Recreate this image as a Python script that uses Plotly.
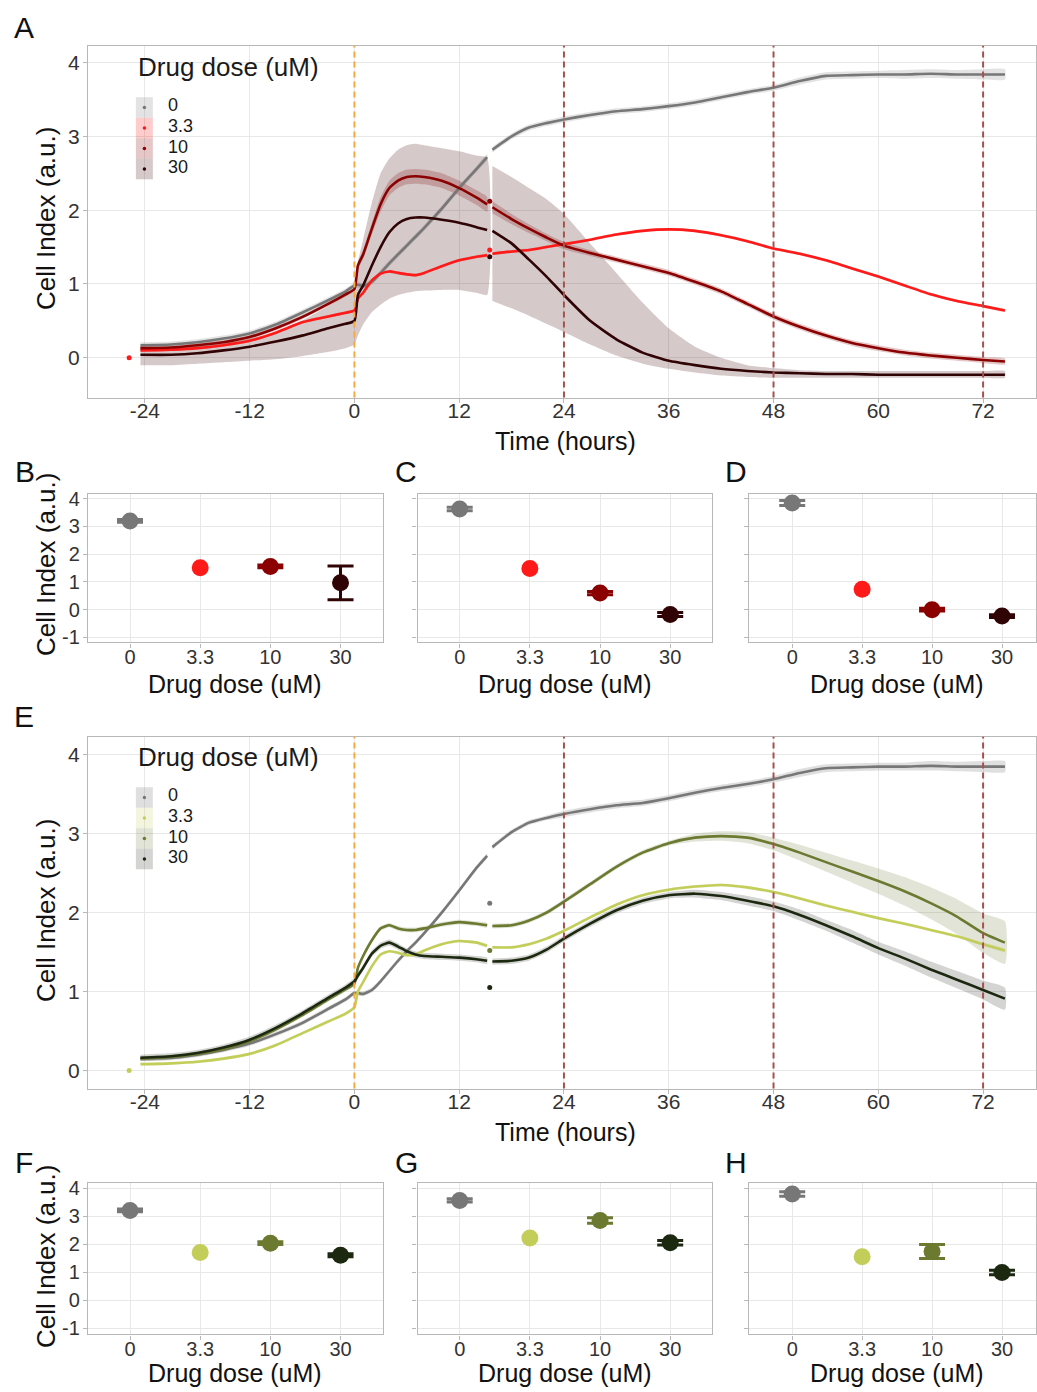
import plotly.graph_objects as go

W, H = 1037, 1392
FONT = "Liberation Sans, Arial, sans-serif"
TICK_COL = "#333333"
GRID = "#e8e8e8"
BORDER = "#b8b8b8"


def fx(px):
    return px / W


def fy(py):
    return 1 - py / H


# ------------------------------------------------------------------ data
time_h = [-24.5, -21, -18, -15, -12, -9, -6, -3, -1, 0,
          0.4, 1, 2, 3, 4, 5, 6, 7, 8, 10,
          12, 14, 15.2, None, 15.8, 18, 20, 22, 24, 27,
          30, 33, 36, 39, 42, 45, 48, 51, 54, 57,
          60, 63, 66, 69, 72, 74.5]

time_ticks = [-24, -12, 0, 12, 24, 36, 48, 60, 72]
time_tick_text = ["-24", "-12", "0", "12", "24", "36", "48", "60", "72"]
ci_ticks = [-1, 0, 1, 2, 3, 4]
ci_tick_text = ["-1", "0", "1", "2", "3", "4"]

dose_labels = ["0", "3.3", "10", "30"]

# Panel A (red drug)
a_dose0 = [0.17, 0.18, 0.21, 0.26, 0.33, 0.45, 0.61, 0.78, 0.9, 0.98,
           0.99, 0.97, 1.03, 1.15, 1.28, 1.4, 1.52, 1.64, 1.76, 2.02,
           2.3, 2.56, 2.72, None, 2.82, 3.0, 3.12, 3.18, 3.23, 3.29,
           3.34, 3.37, 3.41, 3.46, 3.53, 3.6, 3.66, 3.75, 3.82, 3.83,
           3.84, 3.84, 3.85, 3.84, 3.84, 3.84]
a_dose3 = [0.1, 0.11, 0.13, 0.17, 0.23, 0.34, 0.48, 0.56, 0.61, 0.64,
           0.8, 0.88, 1.05, 1.14, 1.17, 1.15, 1.13, 1.12, 1.15, 1.24,
           1.32, 1.37, 1.39, None, 1.41, 1.44, 1.46, 1.5, 1.54, 1.6,
           1.67, 1.72, 1.74, 1.72, 1.66, 1.58, 1.48, 1.41, 1.32, 1.21,
           1.1, 0.98, 0.86, 0.77, 0.7, 0.64]
a_dose10 = [0.13, 0.14, 0.17, 0.21, 0.28, 0.4, 0.55, 0.73, 0.86, 0.93,
            1.25, 1.4, 1.75, 2.08, 2.3, 2.4, 2.45, 2.46, 2.45, 2.4,
            2.3, 2.17, 2.08, None, 2.04, 1.88, 1.75, 1.63, 1.52, 1.42,
            1.33, 1.24, 1.15, 1.03, 0.9, 0.73, 0.56, 0.42, 0.3, 0.2,
            0.13, 0.07, 0.03, 0.0, -0.03, -0.05]
a_dose30 = [0.04, 0.04, 0.06, 0.1, 0.15, 0.22, 0.3, 0.4, 0.46, 0.5,
            0.85, 0.98, 1.25, 1.5, 1.7, 1.82, 1.88, 1.9, 1.9, 1.87,
            1.83, 1.77, 1.73, None, 1.72, 1.55, 1.33, 1.1, 0.85, 0.5,
            0.25, 0.07, -0.04, -0.1, -0.15, -0.18, -0.2, -0.21, -0.22, -0.22,
            -0.23, -0.23, -0.23, -0.23, -0.23, -0.23]
a_sd0 = [0.04, 0.04, 0.04, 0.04, 0.04, 0.04, 0.04, 0.04, 0.04, 0.04,
         0.04, 0.04, 0.04, 0.04, 0.04, 0.04, 0.04, 0.04, 0.04, 0.04,
         0.04, 0.04, 0.04, None, 0.04, 0.04, 0.04, 0.04, 0.04, 0.04,
         0.04, 0.04, 0.04, 0.04, 0.04, 0.04, 0.04, 0.05, 0.05, 0.05,
         0.05, 0.06, 0.06, 0.06, 0.07, 0.07]
a_sd3 = [0.02] * 23 + [None] + [0.02] * 22
a_sd10 = [0.03, 0.03, 0.03, 0.03, 0.03, 0.03, 0.03, 0.03, 0.03, 0.03,
          0.05, 0.06, 0.08, 0.1, 0.1, 0.1, 0.1, 0.1, 0.1, 0.1,
          0.1, 0.1, 0.1, None, 0.08, 0.07, 0.06, 0.05, 0.05, 0.04,
          0.04, 0.04, 0.04, 0.04, 0.04, 0.04, 0.04, 0.04, 0.04, 0.04,
          0.04, 0.04, 0.04, 0.04, 0.04, 0.04]
a_lo30 = [-0.1, -0.1, -0.08, -0.06, -0.04, -0.02, 0.02, 0.08, 0.13, 0.18,
          0.3, 0.45, 0.62, 0.72, 0.8, 0.85, 0.88, 0.9, 0.91, 0.92,
          0.92, 0.88, 0.85, None, 0.77, 0.67, 0.57, 0.46, 0.35, 0.18,
          0.03, -0.08, -0.15, -0.2, -0.24, -0.26, -0.27, -0.27, -0.27, -0.27,
          -0.27, -0.27, -0.27, -0.27, -0.27, -0.27]
a_hi30 = [0.15, 0.15, 0.17, 0.2, 0.26, 0.35, 0.5, 0.7, 0.85, 0.95,
          1.3, 1.6, 2.1, 2.5, 2.7, 2.82, 2.88, 2.9, 2.88, 2.84,
          2.8, 2.74, 2.71, None, 2.6, 2.45, 2.3, 2.15, 1.95, 1.55,
          1.15, 0.75, 0.4, 0.15, 0.0, -0.1, -0.14, -0.17, -0.18, -0.18,
          -0.18, -0.18, -0.18, -0.18, -0.18, -0.18]
# isolated points (t, value) per dose in panel A
a_iso_t = [-25.8, 15.5, 15.5, 15.5]
a_iso_v = [0.0, 1.46, 2.12, 1.37]
a_iso_dose = [1, 1, 2, 3]

# Panel E (green drug)
e_dose0 = [0.15, 0.16, 0.2, 0.26, 0.34, 0.46, 0.6, 0.78, 0.9, 0.98,
           0.98, 0.97, 1.02, 1.13, 1.26, 1.39, 1.51, 1.62, 1.74, 2.0,
           2.28, 2.57, 2.72, None, 2.83, 3.02, 3.14, 3.2, 3.25, 3.31,
           3.36, 3.39, 3.45, 3.52, 3.58, 3.63, 3.69, 3.77, 3.83, 3.84,
           3.85, 3.85, 3.86, 3.85, 3.85, 3.85]
e_dose3 = [0.08, 0.09, 0.11, 0.15, 0.21, 0.32, 0.47, 0.62, 0.72, 0.8,
           1.0, 1.12, 1.32, 1.47, 1.51, 1.49, 1.46, 1.47, 1.52, 1.6,
           1.64, 1.62, 1.58, None, 1.56, 1.56, 1.6, 1.67, 1.77, 1.94,
           2.1, 2.22, 2.29, 2.33, 2.35, 2.32, 2.26, 2.18, 2.09, 2.01,
           1.93, 1.86, 1.78, 1.7, 1.6, 1.52]
e_dose10 = [0.15, 0.17, 0.21, 0.27, 0.37, 0.52, 0.7, 0.9, 1.03, 1.1,
            1.3, 1.45, 1.65, 1.8, 1.84, 1.8, 1.78, 1.78, 1.8, 1.85,
            1.88, 1.86, 1.84, None, 1.83, 1.84, 1.9, 2.0, 2.14, 2.36,
            2.58, 2.76, 2.88, 2.95, 2.97, 2.95, 2.87, 2.76, 2.64, 2.52,
            2.4, 2.27, 2.12, 1.95, 1.74, 1.62]
e_dose30 = [0.16, 0.18, 0.22, 0.29, 0.39, 0.54, 0.72, 0.92, 1.05, 1.13,
            1.2, 1.3, 1.48, 1.58, 1.62, 1.57, 1.51, 1.47, 1.45, 1.44,
            1.43, 1.41, 1.39, None, 1.38, 1.39, 1.43, 1.53, 1.67, 1.86,
            2.03, 2.15, 2.22, 2.24, 2.21, 2.15, 2.08, 1.97, 1.84, 1.7,
            1.55, 1.42, 1.28, 1.15, 1.02, 0.91]
e_sd0 = [0.03, 0.03, 0.03, 0.03, 0.03, 0.03, 0.03, 0.03, 0.03, 0.03,
         0.03, 0.03, 0.03, 0.03, 0.03, 0.03, 0.03, 0.03, 0.03, 0.03,
         0.03, 0.03, 0.03, None, 0.03, 0.03, 0.03, 0.03, 0.04, 0.04,
         0.04, 0.04, 0.04, 0.04, 0.04, 0.04, 0.04, 0.05, 0.05, 0.05,
         0.05, 0.05, 0.06, 0.06, 0.07, 0.07]
e_sd3 = [0.02] * 23 + [None] + [0.02] * 22
e_sd10 = [0.03, 0.03, 0.03, 0.03, 0.03, 0.03, 0.03, 0.03, 0.03, 0.03,
          0.03, 0.03, 0.03, 0.03, 0.03, 0.03, 0.03, 0.03, 0.03, 0.03,
          0.03, 0.03, 0.03, None, 0.03, 0.03, 0.03, 0.03, 0.03, 0.03,
          0.03, 0.03, 0.03, 0.05, 0.06, 0.07, 0.08, 0.1, 0.12, 0.14,
          0.16, 0.18, 0.2, 0.22, 0.25, 0.27]
e_sd30 = [0.04, 0.04, 0.04, 0.04, 0.04, 0.04, 0.04, 0.04, 0.04, 0.04,
          0.04, 0.04, 0.04, 0.04, 0.04, 0.04, 0.04, 0.04, 0.04, 0.04,
          0.04, 0.04, 0.04, None, 0.04, 0.04, 0.04, 0.04, 0.04, 0.04,
          0.04, 0.04, 0.04, 0.05, 0.05, 0.06, 0.06, 0.07, 0.07, 0.08,
          0.08, 0.09, 0.1, 0.11, 0.12, 0.14]
e_iso_t = [-25.8, 15.5, 15.5, 15.5]
e_iso_v = [0.0, 2.12, 1.52, 1.05]
e_iso_dose = [1, 0, 2, 3]

treatment_time = [0]
snapshot_times = [24, 48, 72]

# Dose-response snapshots (mean, error) at 24 h, 48 h, 72 h
b_mean = [3.2, 1.51, 1.56, 0.97]
b_err = [0.05, 0, 0.05, 0.61]
c_mean = [3.63, 1.49, 0.6, -0.17]
c_err = [0.06, 0, 0.06, 0.07]
d_mean = [3.85, 0.74, 0.0, -0.23]
d_err = [0.09, 0, 0.05, 0.05]
f_mean = [3.21, 1.71, 2.04, 1.61]
f_err = [0.05, 0, 0.05, 0.05]
g_mean = [3.57, 2.23, 2.85, 2.06]
g_err = [0.06, 0, 0.1, 0.08]
h_mean = [3.8, 1.56, 1.74, 0.99]
h_err = [0.08, 0, 0.25, 0.08]

red_cols = ["#777777", "#ff1a1a", "#8b0000", "#300404"]
red_fill = ["rgba(128,128,128,0.22)", "rgba(255,0,0,0.2)",
            "rgba(139,0,0,0.22)", "rgba(70,10,10,0.22)"]
grn_cols = ["#777777", "#c3ce5a", "#6b7a30", "#1d2811"]
grn_fill = ["rgba(128,128,128,0.25)", "rgba(195,206,90,0.2)",
            "rgba(107,122,48,0.2)", "rgba(40,45,30,0.2)"]

fig = go.Figure()


def band(t, mid, sd=None, lo=None, hi=None):
    if lo is None:
        lo = [None if m is None else m - s for m, s in zip(mid, sd)]
        hi = [None if m is None else m + s for m, s in zip(mid, sd)]
    xs, ys, seg = [], [], []

    def flush():
        if seg:
            xs.extend([p[0] for p in seg] + [p[0] for p in reversed(seg)] + [None])
            ys.extend([p[2] for p in seg] + [p[1] for p in reversed(seg)] + [None])

    for ti, l, h in zip(t, lo, hi):
        if ti is None or l is None:
            flush()
            seg = []
        else:
            seg.append((ti, l, h))
    flush()
    return xs, ys


def add_timecourse(series, bands, cols, fills, iso_t, iso_v, iso_d, xa, ya):
    for (xs, ys), fc in zip(bands, fills):
        fig.add_trace(go.Scatter(x=xs, y=ys, mode="lines", fill="toself",
                                 fillcolor=fc, line=dict(width=0, shape="spline", smoothing=0.5),
                                 hoverinfo="skip", showlegend=False,
                                 xaxis=xa, yaxis=ya))
    for s, c in zip(series, cols):
        fig.add_trace(go.Scatter(x=time_h, y=s, mode="lines",
                                 line=dict(color=c, width=2.6, shape="spline", smoothing=0.5),
                                 connectgaps=False, showlegend=False,
                                 xaxis=xa, yaxis=ya))
    fig.add_trace(go.Scatter(x=iso_t, y=iso_v, mode="markers",
                             marker=dict(color=[cols[d] for d in iso_d], size=5),
                             showlegend=False, xaxis=xa, yaxis=ya))


a_series = [a_dose0, a_dose3, a_dose10, a_dose30]
a_bands = [band(time_h, a_dose0, a_sd0), band(time_h, a_dose3, a_sd3),
           band(time_h, a_dose10, a_sd10),
           band(time_h, a_dose30, lo=a_lo30, hi=a_hi30)]
add_timecourse(a_series, a_bands, red_cols, red_fill,
               a_iso_t, a_iso_v, a_iso_dose, "x", "y")

e_series = [e_dose0, e_dose3, e_dose10, e_dose30]
e_bands = [band(time_h, e_dose0, e_sd0), band(time_h, e_dose3, e_sd3),
           band(time_h, e_dose10, e_sd10), band(time_h, e_dose30, e_sd30)]
add_timecourse(e_series, e_bands, grn_cols, grn_fill,
               e_iso_t, e_iso_v, e_iso_dose, "x5", "y5")


def add_dose(means, errs, cols, xa, ya):
    for lab, m, e, c in zip(dose_labels, means, errs, cols):
        fig.add_trace(go.Scatter(
            x=[lab], y=[m], mode="markers",
            marker=dict(color=c, size=17),
            error_y=dict(type="data", array=[e], visible=e > 0,
                         color=c, thickness=3, width=13),
            showlegend=False, xaxis=xa, yaxis=ya))


add_dose(b_mean, b_err, red_cols, "x2", "y2")
add_dose(c_mean, c_err, red_cols, "x3", "y3")
add_dose(d_mean, d_err, red_cols, "x4", "y4")
add_dose(f_mean, f_err, grn_cols, "x6", "y6")
add_dose(g_mean, g_err, grn_cols, "x7", "y7")
add_dose(h_mean, h_err, grn_cols, "x8", "y8")

# ------------------------------------------------------------------ axes
tick_font = dict(family=FONT, size=21, color=TICK_COL)
dose_tick_font = dict(family=FONT, size=20, color=TICK_COL)
common = dict(showline=True, mirror=True, linecolor=BORDER, linewidth=1.2,
              showgrid=True, gridcolor=GRID, gridwidth=1, zeroline=False,
              ticks="outside", ticklen=4, tickcolor=BORDER, tickfont=tick_font)

layout = {}
for key_x, key_y, ytop, ybot, yr in [("xaxis", "yaxis", 40, 395, [-0.54, 4.23]),
                                      ("xaxis5", "yaxis5", 737, 1092, [-0.23, 4.23])]:
    layout[key_x] = dict(common, domain=[fx(88), 1.0], range=[-30.52, 78.06],
                         tickvals=time_ticks, ticktext=time_tick_text,
                         ticklabelstandoff=-10,
                         anchor=key_y.replace("axis", ""))
    layout[key_y] = dict(common, domain=[fy(ybot), fy(ytop)], range=yr,
                         tickvals=ci_ticks[1:], ticktext=ci_tick_text[1:],
                         ticklabelstandoff=-1,
                         anchor=key_x.replace("axis", ""))

dose_panels = [
    ("2", 88, 383, 492, 642, [-1.18, 4.18], True, [-0.6, 3.6]),
    ("3", 418, 713, 492, 642, [-1.18, 4.18], False, [-0.6, 3.6]),
    ("4", 750, 1037, 492, 642, [-1.18, 4.18], False, [-0.614, 3.486]),
    ("6", 88, 383, 1187, 1340, [-1.22, 4.2], True, [-0.6, 3.6]),
    ("7", 418, 713, 1187, 1340, [-1.22, 4.2], False, [-0.6, 3.6]),
    ("8", 750, 1037, 1187, 1340, [-1.22, 4.2], False, [-0.614, 3.486]),
]
for n, x0, x1, y0, y1, yr, showlab, xr in dose_panels:
    layout["xaxis" + n] = dict(common, domain=[fx(x0), fx(x1)], type="category",
                               categoryorder="array", categoryarray=dose_labels,
                               range=xr, anchor="y" + n, ticklabelstandoff=-8,
                               tickfont=dose_tick_font)
    layout["yaxis" + n] = dict(common, domain=[fy(y1), fy(y0)], range=yr,
                               tickvals=ci_ticks, ticktext=ci_tick_text,
                               ticklabelstandoff=-1, tickfont=dose_tick_font,
                               showticklabels=showlab, anchor="x" + n)

# ------------------------------------------------------------------ shapes
shapes = []
for xa, ya in [("x", "y"), ("x5", "y5")]:
    for t0 in treatment_time:
        shapes.append(dict(type="line", xref=xa, yref=ya + " domain", x0=t0, x1=t0,
                           y0=0, y1=1, line=dict(color="#f7ab3c", width=2, dash="6px,4px"),
                           layer="above"))
    for t0 in snapshot_times:
        shapes.append(dict(type="line", xref=xa, yref=ya + " domain", x0=t0, x1=t0,
                           y0=0, y1=1, line=dict(color="#a5524f", width=2, dash="6px,4px"),
                           layer="above"))

annotations = []
DY = -3  # optical centring correction for text boxes


def text(x, y, s, size, xanchor="center", angle=0, color="#111111"):
    annotations.append(dict(x=fx(x), y=fy(y + DY), xref="paper", yref="paper", text=s,
                            showarrow=False, xanchor=xanchor, yanchor="middle",
                            textangle=angle, font=dict(family=FONT, size=size, color=color)))


# legends (manual, ggplot style)
ROW = 20.7
for top, cols, fills in [(40, red_cols, red_fill), (736, grn_cols, grn_fill)]:
    shapes.append(dict(type="rect", xref="paper", yref="paper", x0=fx(128), x1=fx(336),
                       y0=fy(top + 140), y1=fy(top + 2), fillcolor="white",
                       line=dict(width=0), layer="between"))
    text(136, top + 25, "Drug dose (uM)", 26, xanchor="left", color="#1a1a1a")
    for i, lab in enumerate(dose_labels):
        ky0 = top + 52 + ROW * i
        shapes.append(dict(type="rect", xref="paper", yref="paper", x0=fx(136), x1=fx(153),
                           y0=fy(ky0 + ROW), y1=fy(ky0), fillcolor=fills[i],
                           line=dict(width=0), layer="above"))
        shapes.append(dict(type="circle", xref="paper", yref="paper",
                           x0=fx(142.8), x1=fx(146.3), y0=fy(ky0 + ROW / 2 + 1.8),
                           y1=fy(ky0 + ROW / 2 - 1.7),
                           fillcolor=cols[i], line=dict(width=0), layer="above"))
        text(166, ky0 + ROW / 2 + 1, lab, 18, xanchor="left", color="#1a1a1a")

# panel letters
for lab, x, y in [("A", 12, 25), ("B", 13, 473), ("C", 393, 473), ("D", 724, 473),
                  ("E", 12, 720), ("F", 13, 1170), ("G", 393, 1170), ("H", 724, 1170)]:
    text(x, y, lab, 30, xanchor="left", color="#111111")

# axis titles
text(566, 442, "Time (hours)", 25)
text(566, 1139, "Time (hours)", 25)
for yc in (217, 915, 566, 1264):
    text(46, yc, "Cell Index (a.u.)", 26, angle=-90)
for xc in (235, 566, 898):
    text(xc, 687, "Drug dose (uM)", 25)
    text(xc, 1382, "Drug dose (uM)", 25)

fig.update_layout(width=W, height=H, margin=dict(l=0, r=0, t=0, b=0),
                  paper_bgcolor="white", plot_bgcolor="white",
                  shapes=shapes, annotations=annotations, showlegend=False,
                  **layout)

fig.write_html("out.html")
